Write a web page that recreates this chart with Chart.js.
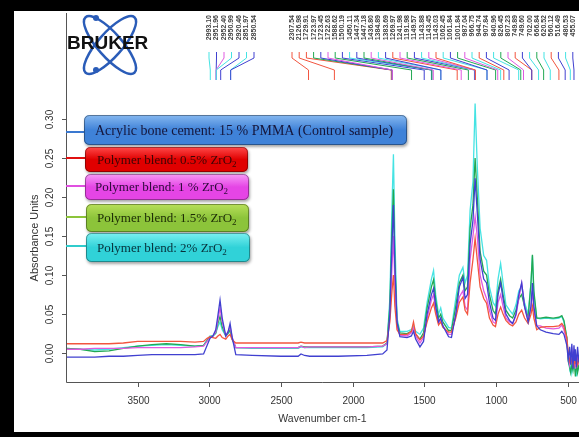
<!DOCTYPE html>
<html lang="en">
<head>
  <meta charset="UTF-8" />
  <title>FTIR spectra - PMMA / ZrO2 blends</title>
  <script src="https://cdn.jsdelivr.net/npm/chart.js"></script>
  <style>
    html, body { margin: 0; padding: 0; background: #fff; }
    canvas { display: block; }
  </style>
</head>
<body>
  <canvas id="spectrum" width="579" height="437"></canvas>
  <script>
    // wavenumber (cm-1) and absorbance
    const wavenumbers = [4000, 3900, 3800, 3700, 3600, 3500, 3400, 3300, 3200, 3100, 3040, 3015, 2995, 2975, 2955, 2940, 2925, 2910, 2885, 2868, 2855, 2840, 2815, 2700, 2500, 2380, 2360, 2335, 2300, 2100, 1900, 1790, 1760, 1740, 1725, 1715, 1705, 1690, 1670, 1620, 1590, 1575, 1560, 1530, 1505, 1480, 1450, 1435, 1420, 1400, 1385, 1370, 1330, 1310, 1280, 1255, 1230, 1215, 1198, 1180, 1160, 1145, 1130, 1110, 1085, 1065, 1045, 1020, 1003, 985, 967, 950, 930, 905, 883, 860, 840, 820, 800, 775, 755, 745, 735, 715, 690, 650, 600, 560, 540, 525, 505, 495, 485, 478, 470, 462, 455, 450, 445, 438, 430, 420];
    const control = [-0.005, -0.005, -0.005, -0.004, -0.004, -0.003, -0.002, -0.002, -0.002, -0.002, -0.001, 0.010, 0.019, 0.022, 0.030, 0.048, 0.068, 0.045, 0.022, 0.028, 0.038, 0.020, -0.002, -0.003, -0.004, -0.004, -0.001, -0.003, -0.004, -0.004, -0.003, -0.001, 0.004, 0.050, 0.140, 0.190, 0.110, 0.040, 0.021, 0.020, 0.022, 0.028, 0.018, 0.008, 0.015, 0.050, 0.075, 0.083, 0.060, 0.040, 0.045, 0.035, 0.021, 0.020, 0.050, 0.085, 0.097, 0.070, 0.075, 0.140, 0.170, 0.224, 0.180, 0.120, 0.095, 0.090, 0.065, 0.045, 0.042, 0.075, 0.090, 0.070, 0.050, 0.042, 0.038, 0.050, 0.075, 0.090, 0.060, 0.040, 0.060, 0.090, 0.060, 0.035, 0.030, 0.027, 0.025, 0.024, 0.028, 0.024, 0.010, -0.008, 0.008, -0.015, 0.012, -0.020, 0.010, -0.010, 0.005, -0.018, 0.008, -0.012];
    const blend05 = [0.012, 0.012, 0.012, 0.012, 0.013, 0.015, 0.015, 0.015, 0.015, 0.014, 0.015, 0.019, 0.021, 0.020, 0.019, 0.022, 0.024, 0.020, 0.018, 0.022, 0.024, 0.017, 0.013, 0.013, 0.013, 0.013, 0.014, 0.013, 0.013, 0.013, 0.013, 0.013, 0.016, 0.040, 0.080, 0.100, 0.060, 0.030, 0.024, 0.024, 0.028, 0.040, 0.025, 0.017, 0.022, 0.040, 0.058, 0.064, 0.050, 0.036, 0.040, 0.033, 0.027, 0.027, 0.045, 0.065, 0.072, 0.055, 0.050, 0.090, 0.120, 0.147, 0.120, 0.085, 0.070, 0.064, 0.045, 0.036, 0.034, 0.050, 0.059, 0.050, 0.042, 0.037, 0.035, 0.040, 0.050, 0.055, 0.045, 0.038, 0.050, 0.060, 0.045, 0.030, 0.033, 0.034, 0.034, 0.035, 0.038, 0.034, 0.020, 0.000, -0.010, -0.005, -0.012, -0.008, -0.015, -0.010, -0.012, -0.005, -0.015, -0.008];
    const blend1 = [0.005, 0.005, 0.006, 0.006, 0.006, 0.007, 0.007, 0.007, 0.007, 0.008, 0.009, 0.015, 0.020, 0.022, 0.027, 0.042, 0.058, 0.040, 0.022, 0.028, 0.034, 0.020, 0.007, 0.007, 0.007, 0.007, 0.009, 0.007, 0.008, 0.008, 0.008, 0.009, 0.012, 0.045, 0.110, 0.150, 0.090, 0.035, 0.023, 0.022, 0.026, 0.032, 0.022, 0.013, 0.020, 0.045, 0.068, 0.075, 0.055, 0.038, 0.044, 0.035, 0.024, 0.024, 0.048, 0.072, 0.080, 0.060, 0.055, 0.120, 0.150, 0.175, 0.150, 0.100, 0.080, 0.070, 0.055, 0.040, 0.038, 0.065, 0.075, 0.060, 0.045, 0.040, 0.038, 0.048, 0.070, 0.090, 0.060, 0.042, 0.060, 0.080, 0.055, 0.035, 0.035, 0.032, 0.031, 0.032, 0.036, 0.030, 0.015, -0.005, -0.015, -0.008, -0.010, 0.002, -0.012, -0.005, -0.020, -0.010, -0.004, -0.015];
    const blend15 = [0.006, 0.005, 0.002, 0.003, 0.006, 0.009, 0.011, 0.012, 0.011, 0.009, 0.010, 0.016, 0.021, 0.022, 0.026, 0.038, 0.047, 0.034, 0.022, 0.026, 0.030, 0.018, 0.007, 0.007, 0.007, 0.007, 0.009, 0.008, 0.008, 0.008, 0.008, 0.009, 0.013, 0.060, 0.160, 0.210, 0.120, 0.040, 0.026, 0.025, 0.028, 0.031, 0.024, 0.018, 0.026, 0.058, 0.085, 0.094, 0.068, 0.045, 0.050, 0.040, 0.029, 0.029, 0.060, 0.090, 0.100, 0.080, 0.085, 0.160, 0.190, 0.250, 0.200, 0.130, 0.105, 0.100, 0.075, 0.055, 0.050, 0.080, 0.095, 0.075, 0.055, 0.048, 0.045, 0.055, 0.070, 0.075, 0.060, 0.045, 0.090, 0.126, 0.080, 0.045, 0.045, 0.046, 0.045, 0.046, 0.048, 0.042, 0.020, -0.010, -0.018, -0.025, -0.015, -0.022, -0.010, -0.018, -0.030, -0.012, -0.025, -0.015];
    const blend2 = [0.006, 0.005, 0.004, 0.005, 0.007, 0.009, 0.010, 0.011, 0.010, 0.009, 0.010, 0.017, 0.022, 0.022, 0.025, 0.034, 0.040, 0.030, 0.022, 0.025, 0.028, 0.018, 0.007, 0.006, 0.006, 0.006, 0.008, 0.007, 0.007, 0.007, 0.007, 0.008, 0.012, 0.070, 0.190, 0.255, 0.150, 0.045, 0.028, 0.028, 0.030, 0.034, 0.028, 0.024, 0.032, 0.065, 0.095, 0.106, 0.075, 0.050, 0.058, 0.045, 0.033, 0.032, 0.070, 0.100, 0.110, 0.090, 0.100, 0.183, 0.220, 0.320, 0.240, 0.160, 0.125, 0.119, 0.085, 0.065, 0.060, 0.095, 0.115, 0.090, 0.062, 0.055, 0.050, 0.062, 0.080, 0.085, 0.065, 0.050, 0.090, 0.125, 0.075, 0.045, 0.044, 0.045, 0.044, 0.045, 0.047, 0.040, 0.020, -0.006, -0.020, -0.012, -0.025, -0.015, -0.020, -0.010, -0.015, -0.030, -0.010, -0.022];

    const seriesNames = ['Acrylic bone cement: 15 % PMMA (Control sample)', 'Polymer blend: 0.5% ZrO', 'Polymer blend: 1 % ZrO', 'Polymer blend: 1.5% ZrO', 'Polymer blend: 2% ZrO'];
    const lineColors = ['#4040d0', '#f2553f', '#e05ae0', '#22a852', '#45e3e3'];

    const xTicks = [3500, 3000, 2500, 2000, 1500, 1000, 500];
    const yTicks = [0, 0.05, 0.10, 0.15, 0.20, 0.25, 0.30];
    const yTickLabels = ['0.00', '0.05', '0.10', '0.15', '0.20', '0.25', '0.30'];

    // peak picking labels in the OPUS header
    const peakLabelsA = ['2993.10', '2951.96', '2952.40', '2950.99', '2920.46', '2851.97', '2850.54'];
    const peakSeriesA = [4, 0, 2, 4, 0, 4, 0];
    const peakLabelsB = ['2307.54', '2126.98', '1729.91', '1723.97', '1723.45', '1722.63', '1588.62', '1500.19', '1450.11', '1447.34', '1447.18', '1436.80', '1384.89', '1383.69', '1269.97', '1241.98', '1191.98', '1149.57', '1143.88', '1143.45', '1143.03', '1062.45', '1061.84', '1001.84', '987.04', '966.75', '944.74', '907.84', '840.96', '826.45', '807.23', '749.89', '749.60', '702.00', '666.84', '620.52', '560.12', '516.49', '480.53', '455.07'];
    const peakSeriesB = [1, 1, 1, 3, 0, 2, 3, 0, 4, 0, 3, 2, 4, 0, 1, 2, 3, 0, 4, 2, 1, 4, 0, 3, 2, 4, 1, 0, 4, 3, 2, 1, 0, 4, 3, 4, 1, 0, 4, 0];

    const boxFills = [['#86b8f0', '#3f82d8'], ['#ff4a4a', '#e00000'], ['#f79af7', '#e545e5'], ['#b8e05a', '#8cc43a'], ['#7af0f0', '#30d2d8']];
    const boxTextColors = ['#16163a', '#3a0505', '#2c0a3a', '#1c2a05', '#08303a'];
    const boxKeyColors = ['#3a78d0', '#e01010', '#e050e0', '#8cc43a', '#30cccc'];
    const boxes = [
      { x: 84, y: 115, w: 323, h: 30, key: 132, font: 14, tx: 95 },
      { x: 85, y: 147, w: 163, h: 25, key: 158, font: 13, tx: 97 },
      { x: 85, y: 174, w: 164, h: 26, key: 186, font: 13, tx: 95 },
      { x: 86, y: 204, w: 163, h: 28, key: 217, font: 13, tx: 97 },
      { x: 86, y: 233, w: 164, h: 29, key: 246, font: 13, tx: 97 }
    ];

    const toPoints = arr => wavenumbers.map((w, i) => ({ x: w, y: arr[i] }));
    const allSeries = [control, blend05, blend1, blend15, blend2];

    const decor = {
      id: 'decor',
      beforeDraw(chart) {
        const c = chart.ctx;
        c.save();
        c.fillStyle = '#fff';
        c.fillRect(0, 0, chart.width, chart.height);
        c.restore();
      },
      afterDatasetsDraw(chart) {
        const c = chart.ctx;
        const xs = chart.scales.x, ys = chart.scales.y, a = chart.chartArea;
        c.save();

        // axes box + ticks
        c.strokeStyle = '#555';
        c.lineWidth = 1;
        c.beginPath();
        c.moveTo(a.left + 0.5, a.top);
        c.lineTo(a.left + 0.5, a.bottom + 0.5);
        c.lineTo(a.right, a.bottom + 0.5);
        c.stroke();
        c.fillStyle = '#333';
        c.font = '10px "Liberation Sans", Arial, sans-serif';
        c.textAlign = 'center';
        c.textBaseline = 'middle';
        xTicks.forEach(v => {
          const px = Math.round(xs.getPixelForValue(v)) + 0.5;
          c.beginPath(); c.moveTo(px, a.bottom); c.lineTo(px, a.bottom + 5); c.stroke();
          c.fillText(String(v), px, a.bottom + 19);
        });
        yTicks.forEach((v, i) => {
          const py = Math.round(ys.getPixelForValue(v)) + 0.5;
          c.beginPath(); c.moveTo(a.left - 4, py); c.lineTo(a.left, py); c.stroke();
          c.save();
          c.translate(a.left - 16, py);
          c.rotate(-Math.PI / 2);
          c.fillText(yTickLabels[i], 0, 0);
          c.restore();
        });
        c.font = '10.5px "Liberation Sans", Arial, sans-serif';
        c.fillText('Wavenumber cm-1', (a.left + a.right) / 2, 419);
        c.save();
        c.translate(35, 238);
        c.rotate(-Math.PI / 2);
        c.font = '11px "Liberation Sans", Arial, sans-serif';
        c.fillText('Absorbance Units', 0, 0);
        c.restore();

        // peak labels with leader lines
        const drawPeaks = (labels, idx, x0, step) => {
          labels.forEach((lab, i) => {
            const lx = x0 + i * step;
            const ex = xs.getPixelForValue(parseFloat(lab));
            c.fillStyle = '#444';
            c.font = 'bold 7px "Liberation Sans", Arial, sans-serif';
            c.textAlign = 'right';
            c.textBaseline = 'middle';
            c.save();
            c.translate(lx, 15);
            c.rotate(-Math.PI / 2);
            c.fillText(lab, 0, 0);
            c.restore();
            c.strokeStyle = lineColors[idx[i]];
            c.lineWidth = 1;
            c.beginPath();
            c.moveTo(lx, 52);
            c.lineTo(lx, 58);
            c.lineTo(ex, 70);
            c.lineTo(ex, 80);
            c.stroke();
          });
        };
        drawPeaks(peakLabelsA, peakSeriesA, 209, 7.5);
        drawPeaks(peakLabelsB, peakSeriesB, 292, 7.2);

        // Bruker logo
        c.strokeStyle = '#2a5cb8';
        c.lineWidth = 2.5;
        [0.85, -0.85].forEach(r => {
          c.beginPath();
          c.ellipse(110, 45, 37, 12, r, 0, Math.PI * 2);
          c.stroke();
        });
        c.fillStyle = '#2a5cb8';
        [[96, 18], [96, 70]].forEach(p => { c.beginPath(); c.arc(p[0], p[1], 3, 0, Math.PI * 2); c.fill(); });
        c.fillStyle = '#111';
        c.font = 'bold 19px "Liberation Sans", Arial, sans-serif';
        c.textAlign = 'left';
        c.textBaseline = 'alphabetic';
        c.fillText('BRUKER', 67, 49);

        // legend boxes
        boxes.forEach((b, i) => {
          c.strokeStyle = boxKeyColors[i];
          c.lineWidth = 2;
          c.beginPath(); c.moveTo(a.left, b.key); c.lineTo(b.x, b.key); c.stroke();
          c.save();
          c.shadowColor = 'rgba(0,0,0,0.35)';
          c.shadowBlur = 3;
          c.shadowOffsetX = 1;
          c.shadowOffsetY = 2;
          const g = c.createLinearGradient(0, b.y, 0, b.y + b.h);
          g.addColorStop(0, boxFills[i][0]);
          g.addColorStop(0.5, boxFills[i][1]);
          g.addColorStop(1, boxFills[i][1]);
          c.fillStyle = g;
          c.beginPath();
          c.roundRect(b.x, b.y, b.w, b.h, 5);
          c.fill();
          c.restore();
          c.strokeStyle = 'rgba(0,0,0,0.35)';
          c.lineWidth = 1;
          c.beginPath(); c.roundRect(b.x + 0.5, b.y + 0.5, b.w - 1, b.h - 1, 5); c.stroke();
          c.fillStyle = boxTextColors[i];
          c.font = b.font + 'px "Liberation Serif", "Times New Roman", serif';
          c.textBaseline = 'middle';
          c.textAlign = 'left';
          const ty = b.y + b.h / 2 + 1;
          c.fillText(seriesNames[i], b.tx, ty);
          if (i > 0) {
            const w = c.measureText(seriesNames[i]).width;
            c.font = '9px "Liberation Serif", "Times New Roman", serif';
            c.fillText('2', b.tx + w, ty + 4);
          }
        });

        // black frame of the screenshot
        c.fillStyle = '#000';
        c.fillRect(0, 0, chart.width, 11);
        c.fillRect(0, 0, 14, chart.height);
        c.fillRect(0, 432, chart.width, 5);
        c.restore();
      }
    };

    new Chart(document.getElementById('spectrum').getContext('2d'), {
      type: 'line',
      data: {
        datasets: allSeries.map((s, i) => ({
          label: seriesNames[i],
          data: toPoints(s),
          borderColor: lineColors[i],
          borderWidth: 1.3,
          pointRadius: 0,
          tension: 0,
          fill: false
        }))
      },
      options: {
        responsive: false,
        devicePixelRatio: 1,
        animation: false,
        layout: { padding: { left: 66, right: 0, top: 13, bottom: 55 } },
        scales: {
          x: { type: 'linear', reverse: true, min: 420, max: 4000, display: false },
          y: { min: -0.037, max: 0.436, display: false }
        },
        plugins: { legend: { display: false }, tooltip: { enabled: false } }
      },
      plugins: [decor]
    });
  </script>
</body>
</html>
